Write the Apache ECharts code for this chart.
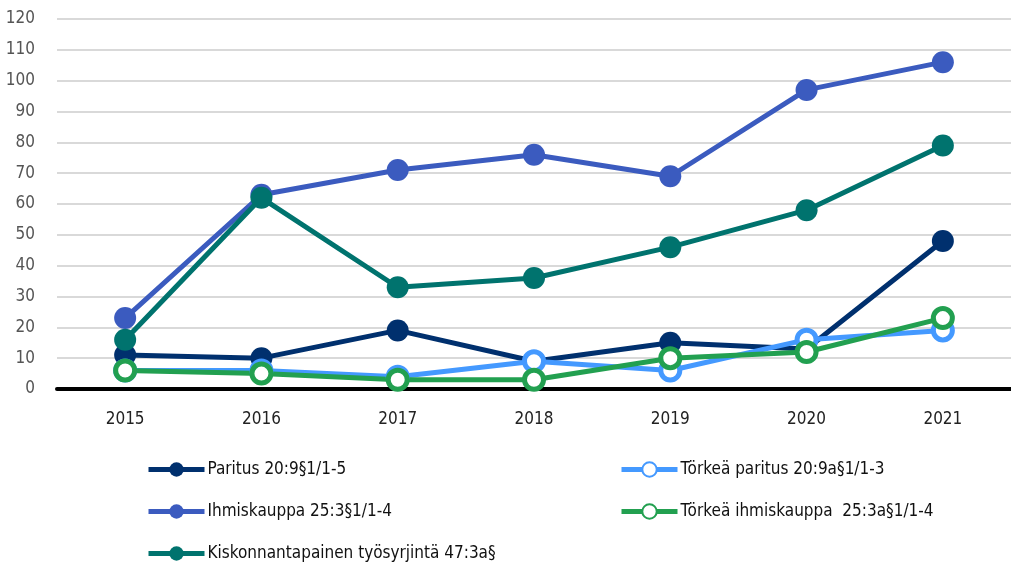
<!DOCTYPE html>
<html>
<head>
<meta charset="utf-8">
<script src="https://cdn.jsdelivr.net/npm/echarts@6/dist/echarts.min.js"></script>
<style>
  html, body { margin: 0; padding: 0; background: #fff; }
  #chart { width: 1011px; height: 569px; }
</style>
</head>
<body>
<div id="chart"></div>
<script>
// vuodet
var years = ['2015', '2016', '2017', '2018', '2019', '2020', '2021'];

var paritus = [11, 10, 19, 9, 15, 13, 48];
var ihmiskauppa = [23, 63, 71, 76, 69, 97, 106];
var kiskonta = [16, 62, 33, 36, 46, 58, 79];
var torkeaParitus = [6, 6, 4, 9, 6, 16, 19];
var torkeaIhmiskauppa = [6, 5, 3, 3, 10, 12, 23];

var names = [
  'Paritus 20:9§1/1-5',
  'Ihmiskauppa 25:3§1/1-4',
  'Kiskonnantapainen työsyrjintä 47:3a§',
  'Törkeä paritus 20:9a§1/1-3',
  'Törkeä ihmiskauppa  25:3a§1/1-4'
];

var font = '"DejaVu Sans Condensed", "Liberation Sans Narrow", sans-serif';

function filled(name, data, color) {
  return {
    name: name, type: 'line', data: data,
    symbol: 'circle', symbolSize: 22,
    lineStyle: { color: color, width: 5 },
    itemStyle: { color: color },
    emphasis: { disabled: true }
  };
}
function hollow(name, data, color) {
  return {
    name: name, type: 'line', data: data,
    symbol: 'circle', symbolSize: 19,
    lineStyle: { color: color, width: 5 },
    itemStyle: { color: '#fff', borderColor: color, borderWidth: 5 },
    emphasis: { disabled: true }
  };
}

var legendBase = {
  orient: 'vertical', top: 461, padding: 0,
  itemWidth: 56, itemHeight: 18, itemGap: 25,
  lineStyle: { width: 5 },
  textStyle: { color: '#111', fontFamily: font, fontSize: 17, padding: [0, 0, 0, -2] }
};

var chart = echarts.init(document.getElementById('chart'));
chart.setOption({
  animation: false,
  grid: { left: 57, right: -9, top: 19, bottom: 180 },
  xAxis: {
    type: 'category',
    data: years,
    boundaryGap: true,
    axisTick: { show: false },
    axisLine: { lineStyle: { color: '#000', width: 4 } },
    axisLabel: { color: '#222', fontFamily: font, fontSize: 17, margin: 22 }
  },
  yAxis: {
    type: 'value',
    min: 0, max: 120, interval: 10,
    axisLine: { show: false },
    axisTick: { show: false },
    splitLine: { lineStyle: { color: '#d9d9d9', width: 2 } },
    axisLabel: { color: '#555', fontFamily: font, fontSize: 17, margin: 22 }
  },
  legend: [
    Object.assign({}, legendBase, { data: [names[0], names[1], names[2]], left: 146 }),
    Object.assign({}, legendBase, { data: [names[3], names[4]], left: 619 })
  ],
  series: [
    filled(names[0], paritus, '#00306e'),
    filled(names[1], ihmiskauppa, '#3b5bbf'),
    filled(names[2], kiskonta, '#00736e'),
    hollow(names[3], torkeaParitus, '#4499ff'),
    hollow(names[4], torkeaIhmiskauppa, '#22a050')
  ]
});
</script>
</body>
</html>
